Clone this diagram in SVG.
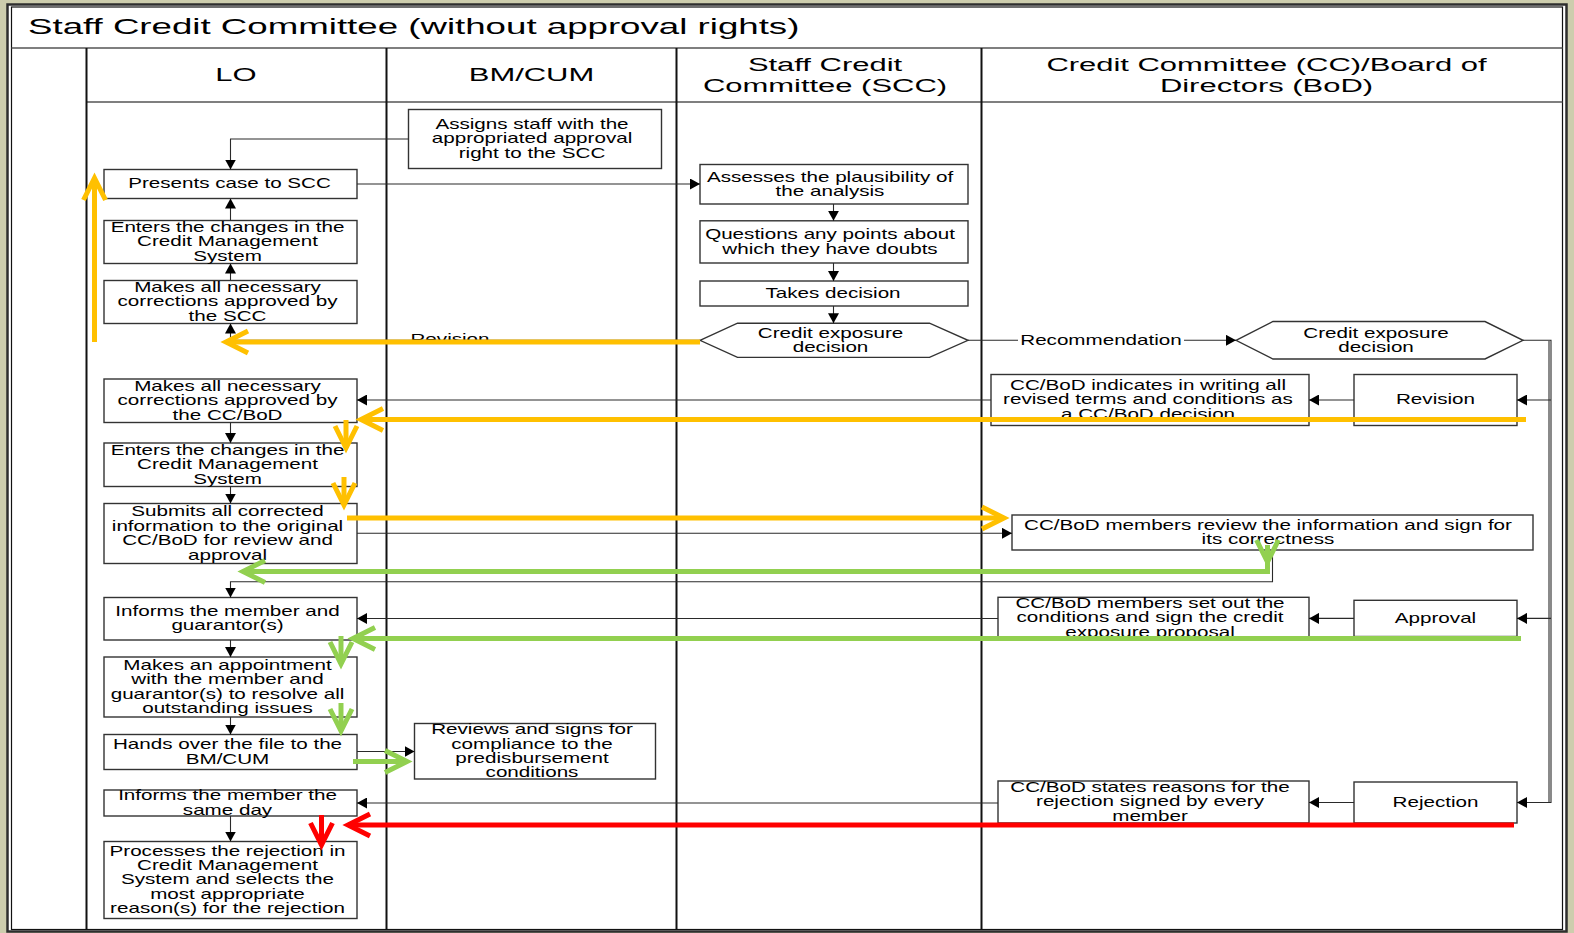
<svg xmlns="http://www.w3.org/2000/svg" width="1574" height="933" viewBox="0 0 1574 933">
<style>
  .bg { fill: #cdcdad; }
  .sheet { fill: #ffffff; stroke: #2e2e2e; stroke-width: 2.5; }
  .inner { fill: none; stroke: #111; stroke-width: 1.2; }
  .rule { stroke: #555; stroke-width: 1.3; fill: none; }
  .lane { stroke: #111; stroke-width: 2; fill: none; }
  .box { fill: #ffffff; stroke: #333; stroke-width: 1.4; }
  .t { font-family: "Liberation Sans", Arial, sans-serif; font-size: 15px; text-anchor: middle; fill: #000; }
  .h { font-family: "Liberation Sans", Arial, sans-serif; font-size: 18px; text-anchor: middle; fill: #000; }
  .title { font-family: "Liberation Sans", Arial, sans-serif; font-size: 22.5px; fill: #000; }
  .c { fill: none; stroke: #2a2a2a; stroke-width: 1.1; }
  .ca { fill: none; stroke: #2a2a2a; stroke-width: 1.1; marker-end: url(#ah); }
  .hy { fill: none; stroke: #ffc000; stroke-width: 5; marker-end: url(#chy); }
  .hg { fill: none; stroke: #92d050; stroke-width: 5; marker-end: url(#chg); }
  .hr { fill: none; stroke: #ff0000; stroke-width: 5; marker-end: url(#chr); }
</style>
<defs>
  <marker id="ah" markerUnits="userSpaceOnUse" viewBox="0 0 10 11" refX="10" refY="5.5" markerWidth="10" markerHeight="11" orient="auto">
    <path d="M0,0 L10,5.5 L0,11 Z" fill="#000"/>
  </marker>
  <marker id="chy" markerUnits="userSpaceOnUse" viewBox="-30 -16 38 32" refX="0" refY="0" markerWidth="38" markerHeight="32" orient="auto" overflow="visible">
    <path d="M-22,-11 L0,0 L-22,11" fill="none" stroke="#ffc000" stroke-width="5"/>
  </marker>
  <marker id="chg" markerUnits="userSpaceOnUse" viewBox="-30 -16 38 32" refX="0" refY="0" markerWidth="38" markerHeight="32" orient="auto" overflow="visible">
    <path d="M-22,-11 L0,0 L-22,11" fill="none" stroke="#92d050" stroke-width="5"/>
  </marker>
  <marker id="chr" markerUnits="userSpaceOnUse" viewBox="-30 -16 38 32" refX="0" refY="0" markerWidth="38" markerHeight="32" orient="auto" overflow="visible">
    <path d="M-22,-11 L0,0 L-22,11" fill="none" stroke="#ff0000" stroke-width="5"/>
  </marker>
</defs>

<!-- page and swimlane frame -->
<rect class="bg" x="0" y="0" width="1574" height="933"/>
<rect class="sheet" x="7.5" y="4.5" width="1559" height="927"/>
<g id="frame">
  <rect class="inner" x="11.5" y="7" width="1551" height="922.5"/>
  <line class="rule" x1="11.5" y1="48" x2="1562.5" y2="48"/>
  <line class="rule" x1="86.5" y1="102" x2="1562.5" y2="102"/>
  <line class="lane" x1="86.5" y1="48" x2="86.5" y2="929.5"/>
  <line class="lane" x1="386.5" y1="48" x2="386.5" y2="929.5"/>
  <line class="lane" x1="676.5" y1="48" x2="676.5" y2="929.5"/>
  <line class="lane" x1="981.5" y1="48" x2="981.5" y2="929.5"/>
  <text class="title" transform="matrix(1.63 0 0 1 28 0)" x="0" y="34.5">Staff Credit Committee (without approval rights)</text>
  <text class="h" transform="matrix(1.72 0 0 1 236 0)" x="0" y="81">LO</text>
  <text class="h" transform="matrix(1.72 0 0 1 531.5 0)" x="0" y="81">BM/CUM</text>
  <text class="h" transform="matrix(1.72 0 0 1 825 0)"><tspan x="0" y="71">Staff Credit</tspan><tspan x="0" y="92">Committee (SCC)</tspan></text>
  <text class="h" transform="matrix(1.72 0 0 1 1266.5 0)"><tspan x="0" y="71">Credit Committee (CC)/Board of</tspan><tspan x="0" y="92">Directors (BoD)</tspan></text>
</g>

<!-- LO lane -->
<g id="lo-presents">
  <rect class="box" x="104" y="169.5" width="253" height="29"/>
  <text class="t" transform="matrix(1.375 0 0 1 229.5 0)" x="0" y="188.5">Presents case to SCC</text>
</g>
<g id="lo-enters-scc">
  <rect class="box" x="104" y="220.5" width="253" height="43"/>
  <text class="t" transform="matrix(1.375 0 0 1 227.5 0)"><tspan x="0" y="232.1">Enters the changes in the</tspan><tspan x="0" y="246.5">Credit Management</tspan><tspan x="0" y="260.9">System</tspan></text>
</g>
<g id="lo-corrections-scc">
  <rect class="box" x="104" y="280.5" width="253" height="43"/>
  <text class="t" transform="matrix(1.375 0 0 1 227.5 0)"><tspan x="0" y="292.1">Makes all necessary</tspan><tspan x="0" y="306.5">corrections approved by</tspan><tspan x="0" y="320.9">the SCC</tspan></text>
</g>
<g id="lo-corrections-ccbod">
  <rect class="box" x="104" y="379" width="253" height="43.5"/>
  <text class="t" transform="matrix(1.375 0 0 1 227.5 0)"><tspan x="0" y="390.9">Makes all necessary</tspan><tspan x="0" y="405.3">corrections approved by</tspan><tspan x="0" y="419.7">the CC/BoD</tspan></text>
</g>
<g id="lo-enters-ccbod">
  <rect class="box" x="104" y="443" width="253" height="43.5"/>
  <text class="t" transform="matrix(1.375 0 0 1 227.5 0)"><tspan x="0" y="454.9">Enters the changes in the</tspan><tspan x="0" y="469.3">Credit Management</tspan><tspan x="0" y="483.7">System</tspan></text>
</g>
<g id="lo-submits">
  <rect class="box" x="104" y="503.5" width="253" height="60"/>
  <text class="t" transform="matrix(1.375 0 0 1 227.5 0)"><tspan x="0" y="516.4">Submits all corrected</tspan><tspan x="0" y="530.8">information to the original</tspan><tspan x="0" y="545.2">CC/BoD for review and</tspan><tspan x="0" y="559.6">approval</tspan></text>
</g>
<g id="lo-informs">
  <rect class="box" x="104" y="597.5" width="253" height="42.5"/>
  <text class="t" transform="matrix(1.375 0 0 1 227.5 0)"><tspan x="0" y="616">Informs the member and</tspan><tspan x="0" y="630.4">guarantor(s)</tspan></text>
</g>
<g id="lo-appointment">
  <rect class="box" x="104" y="657" width="253" height="60"/>
  <text class="t" transform="matrix(1.375 0 0 1 227.5 0)"><tspan x="0" y="669.9">Makes an appointment</tspan><tspan x="0" y="684.3">with the member and</tspan><tspan x="0" y="698.7">guarantor(s) to resolve all</tspan><tspan x="0" y="713.1">outstanding issues</tspan></text>
</g>
<g id="lo-handover">
  <rect class="box" x="104" y="734.5" width="253" height="35"/>
  <text class="t" transform="matrix(1.375 0 0 1 227.5 0)"><tspan x="0" y="749.3">Hands over the file to the</tspan><tspan x="0" y="763.7">BM/CUM</tspan></text>
</g>
<g id="lo-informs-sameday">
  <rect class="box" x="104" y="790" width="253" height="26"/>
  <text class="t" transform="matrix(1.375 0 0 1 227.5 0)"><tspan x="0" y="800.3">Informs the member the</tspan><tspan x="0" y="814.7">same day</tspan></text>
</g>
<g id="lo-processes">
  <rect class="box" x="104" y="841.5" width="253" height="77"/>
  <text class="t" transform="matrix(1.375 0 0 1 227.5 0)"><tspan x="0" y="855.7">Processes the rejection in</tspan><tspan x="0" y="870.1">Credit Management</tspan><tspan x="0" y="884.5">System and selects the</tspan><tspan x="0" y="898.9">most appropriate</tspan><tspan x="0" y="913.3">reason(s) for the rejection</tspan></text>
</g>

<!-- BM/CUM lane -->
<g id="bm-assigns">
  <rect class="box" x="408.5" y="109.5" width="253" height="59"/>
  <text class="t" transform="matrix(1.375 0 0 1 532 0)"><tspan x="0" y="129.1">Assigns staff with the</tspan><tspan x="0" y="143.5">appropriated approval</tspan><tspan x="0" y="157.9">right to the SCC</tspan></text>
</g>
<g id="bm-reviews">
  <rect class="box" x="414.5" y="723.5" width="241" height="55.5"/>
  <text class="t" transform="matrix(1.375 0 0 1 532 0)"><tspan x="0" y="734.2">Reviews and signs for</tspan><tspan x="0" y="748.6">compliance to the</tspan><tspan x="0" y="763">predisbursement</tspan><tspan x="0" y="777.4">conditions</tspan></text>
</g>

<!-- SCC lane -->
<g id="scc-assesses">
  <rect class="box" x="700" y="164.5" width="268" height="39.5"/>
  <text class="t" transform="matrix(1.375 0 0 1 830 0)"><tspan x="0" y="181.6">Assesses the plausibility of</tspan><tspan x="0" y="196">the analysis</tspan></text>
</g>
<g id="scc-questions">
  <rect class="box" x="700" y="220.8" width="268" height="42.2"/>
  <text class="t" transform="matrix(1.375 0 0 1 830 0)"><tspan x="0" y="239.2">Questions any points about</tspan><tspan x="0" y="253.6">which they have doubts</tspan></text>
</g>
<g id="scc-decides">
  <rect class="box" x="700" y="281" width="268" height="25"/>
  <text class="t" transform="matrix(1.375 0 0 1 833 0)" x="0" y="298">Takes decision</text>
</g>
<g id="scc-decision">
  <polygon class="box" points="700,340.3 737.5,323.2 929.5,323.2 968,340.3 929.5,357.4 737.5,357.4"/>
  <text class="t" transform="matrix(1.375 0 0 1 830.5 0)"><tspan x="0" y="337.6">Credit exposure</tspan><tspan x="0" y="352">decision</tspan></text>
</g>

<!-- CC/BoD lane -->
<g id="cc-decision">
  <polygon class="box" points="1236,340.3 1273,321.5 1485,321.5 1523,340.3 1485,359 1273,359"/>
  <text class="t" transform="matrix(1.375 0 0 1 1376 0)"><tspan x="0" y="337.6">Credit exposure</tspan><tspan x="0" y="352">decision</tspan></text>
</g>
<g id="cc-indicates">
  <rect class="box" x="991" y="374.5" width="318" height="51"/>
  <text class="t" transform="matrix(1.375 0 0 1 1148 0)"><tspan x="0" y="390.1">CC/BoD indicates in writing all</tspan><tspan x="0" y="404.5">revised terms and conditions as</tspan><tspan x="0" y="418.9">a CC/BoD decision</tspan></text>
</g>
<g id="cc-revision">
  <rect class="box" x="1354" y="374.5" width="163" height="51"/>
  <text class="t" transform="matrix(1.375 0 0 1 1435.5 0)" x="0" y="404.5">Revision</text>
</g>
<g id="cc-review">
  <rect class="box" x="1012" y="515" width="521" height="35"/>
  <text class="t" transform="matrix(1.375 0 0 1 1268 0)"><tspan x="0" y="529.8">CC/BoD members review the information and sign for</tspan><tspan x="0" y="544.2">its correctness</tspan></text>
</g>
<g id="cc-setout">
  <rect class="box" x="998" y="597.3" width="311" height="41.2"/>
  <text class="t" transform="matrix(1.375 0 0 1 1150 0)"><tspan x="0" y="608">CC/BoD members set out the</tspan><tspan x="0" y="622.4">conditions and sign the credit</tspan><tspan x="0" y="636.8">exposure proposal</tspan></text>
</g>
<g id="cc-approval">
  <rect class="box" x="1354" y="600.3" width="163" height="36.2"/>
  <text class="t" transform="matrix(1.375 0 0 1 1435.5 0)" x="0" y="622.9">Approval</text>
</g>
<g id="cc-states">
  <rect class="box" x="998" y="781" width="311" height="42"/>
  <text class="t" transform="matrix(1.375 0 0 1 1150 0)"><tspan x="0" y="792.1">CC/BoD states reasons for the</tspan><tspan x="0" y="806.5">rejection signed by every</tspan><tspan x="0" y="820.9">member</tspan></text>
</g>
<g id="cc-rejection">
  <rect class="box" x="1354" y="782" width="163" height="41"/>
  <text class="t" transform="matrix(1.375 0 0 1 1435.5 0)" x="0" y="807">Rejection</text>
</g>

<!-- process flow -->
<g id="connectors">
  <path class="ca" d="M408.5,139 H230.5 V169.5"/>
  <path class="ca" d="M357,184 H700"/>
  <path class="ca" d="M230.5,220.5 V198.5"/>
  <path class="ca" d="M230.5,280.5 V263.5"/>
  <path class="ca" d="M700,340.3 H230.5 V323.5"/>
  <text class="t" transform="matrix(1.375 0 0 1 450 0)" x="0" y="344.5">Revision</text>
  <path class="ca" d="M833.5,204 V220.8"/>
  <path class="ca" d="M833.5,263 V281"/>
  <path class="ca" d="M833.5,306 V323.2"/>
  <path class="c" d="M968,340.3 H1018"/>
  <path class="ca" d="M1184,340.3 H1236"/>
  <text class="t" transform="matrix(1.375 0 0 1 1101 0)" x="0" y="345">Recommendation</text>
  <path class="ca" d="M1523,340.3 H1551 V802.5 H1517"/>
  <path class="c" d="M1549,341 V802"/>
  <path class="ca" d="M1551,400 H1517"/>
  <path class="ca" d="M1551,618.4 H1517"/>
  <path class="ca" d="M1354,400 H1309"/>
  <path class="ca" d="M991,400 H357"/>
  <path class="ca" d="M230.5,422.5 V443"/>
  <path class="ca" d="M230.5,486.5 V503.5"/>
  <path class="ca" d="M357,533.3 H1012"/>
  <path class="ca" d="M1272.5,550 V581.7 H230.5 V597.5"/>
  <path class="ca" d="M1354,618.4 H1309"/>
  <path class="ca" d="M998,618.5 H357"/>
  <path class="ca" d="M230.5,640 V657"/>
  <path class="ca" d="M230.5,717 V734.5"/>
  <path class="ca" d="M357,751.5 H414.5"/>
  <path class="ca" d="M1354,802.5 H1309"/>
  <path class="ca" d="M998,803 H357"/>
  <path class="ca" d="M230.5,816 V841.5"/>
</g>

<!-- highlighted paths: revision (yellow), approval (green), rejection (red) -->
<g id="highlights">
  <path class="hy" d="M94.5,342 V178"/>
  <path class="hy" d="M700,342 H226"/>
  <path class="hy" d="M1526,419.5 H361"/>
  <path class="hy" d="M346,420 V448"/>
  <path class="hy" d="M344,477 V505"/>
  <path class="hy" d="M347,518 H1004"/>
  <path class="hg" d="M1267.5,545 V571.5 H243"/>
  <path class="hg" d="M1267.5,545 V562"/>
  <path class="hg" d="M1521,638.5 H353"/>
  <path class="hg" d="M341,636 V664"/>
  <path class="hg" d="M341,703 V731"/>
  <path class="hg" d="M353,761.5 H407"/>
  <path class="hr" d="M1514,825 H348"/>
  <path class="hr" d="M321.5,815 V845"/>
</g>
</svg>
